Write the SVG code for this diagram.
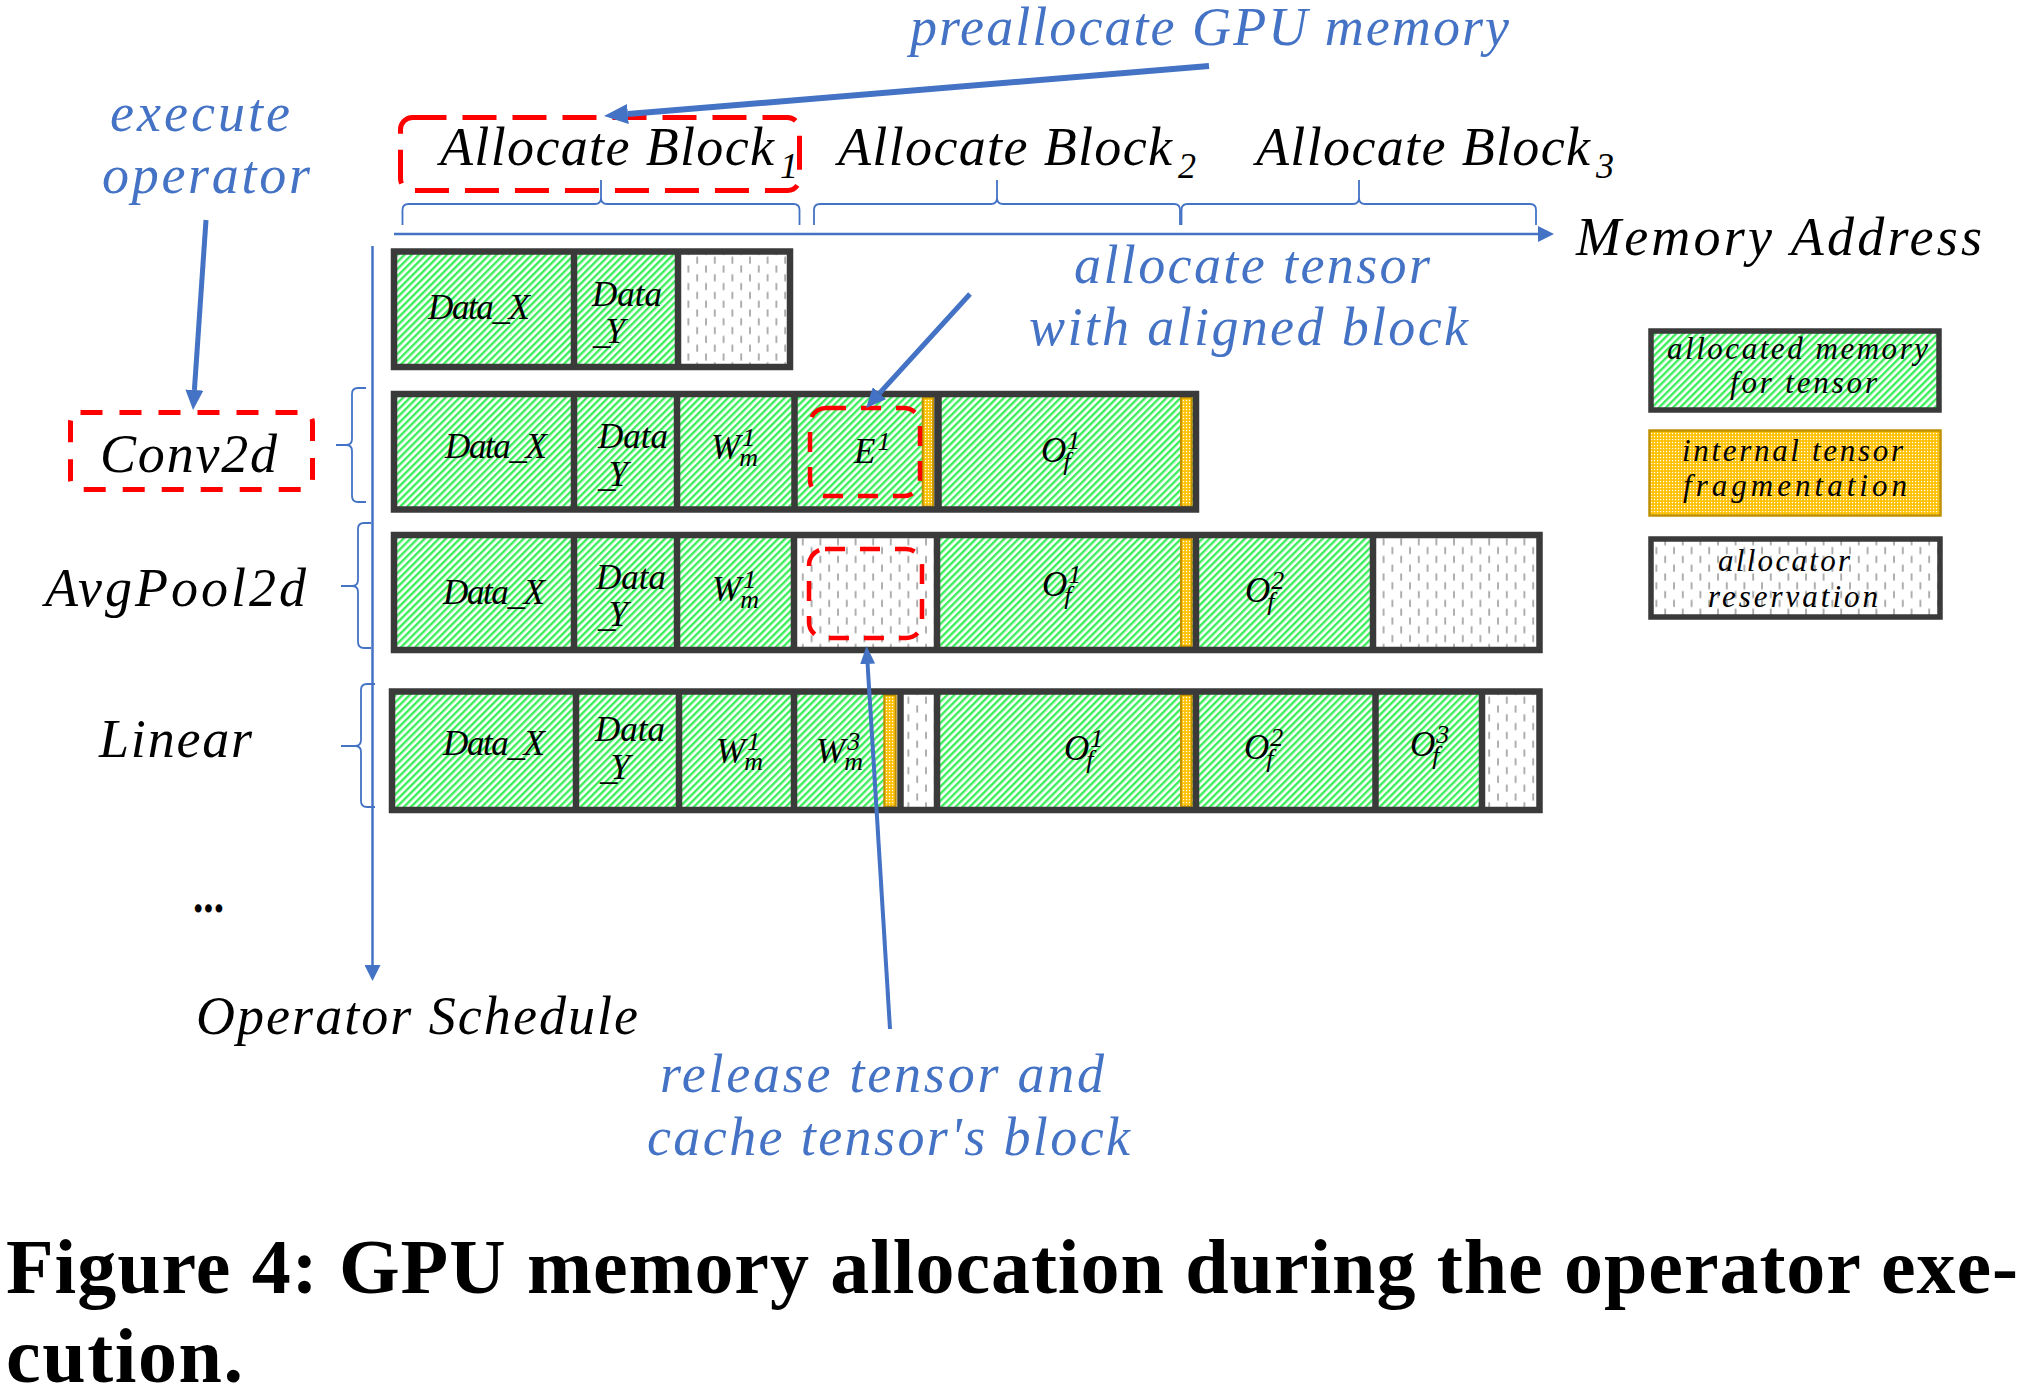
<svg xmlns="http://www.w3.org/2000/svg" width="2042" height="1400" viewBox="0 0 2042 1400">
<defs>
  <style>
    .it { font-family: "Liberation Serif", "DejaVu Serif", serif; font-style: italic; }
    .big { font-size: 54px; }
    .blue { fill: #4472C4; }
    .blk { fill: #000; }
    .cl { font-family: "Liberation Serif", "DejaVu Serif", serif; font-style: italic; font-size: 35px; fill: #000; }
    .sx { font-size: 26px; }
    .lg { font-family: "Liberation Serif", "DejaVu Serif", serif; font-style: italic; font-size: 31px; fill: #000; }
    .box { fill: none; stroke: #3A3A3A; stroke-width: 6.5; }
    .dv { stroke: #3A3A3A; stroke-width: 6.5; }
    .gr { fill: url(#pGreen); }
    .rs { fill: url(#pRes); }
    .or { fill: url(#pOrange); stroke: #BF9000; stroke-width: 2; }
    .redA { fill: none; stroke: #FF0000; stroke-width: 5; stroke-dasharray: 22 17; }
    .redB { fill: none; stroke: #FF0000; stroke-width: 4.5; stroke-dasharray: 20 15; }
    .axis { fill: none; stroke: #4472C4; stroke-width: 2.5; }
    .brace { fill: none; stroke: #4472C4; stroke-width: 1.8; }
    .arr { fill: none; stroke: #4472C4; }
    .cap { font-family: "Liberation Serif", "DejaVu Serif", serif; font-weight: bold; font-size: 78px; fill: #000; }
  </style>
  <pattern id="pGreen" patternUnits="userSpaceOnUse" width="5" height="20" patternTransform="rotate(45)">
    <rect width="5" height="20" fill="#ffffff"/>
    <rect width="2.4" height="20" fill="#3CEE5A"/>
  </pattern>
  <pattern id="pOrange" patternUnits="userSpaceOnUse" width="3" height="3">
    <rect width="3" height="3" fill="#FFC000"/>
    <rect x="0.9" y="0.9" width="1.3" height="1.3" fill="#FFFFFF"/>
  </pattern>
  <pattern id="pRes" patternUnits="userSpaceOnUse" width="17.6" height="17.6">
    <rect width="17.6" height="17.6" fill="#ffffff"/>
    <line x1="2" y1="1.5" x2="2" y2="8.5" stroke="#9C9C9C" stroke-width="1.6"/>
    <line x1="10.8" y1="10.3" x2="10.8" y2="17.3" stroke="#9C9C9C" stroke-width="1.6"/>
  </pattern>
  <marker id="ahL" markerUnits="userSpaceOnUse" markerWidth="24" markerHeight="20" viewBox="0 0 24 20" refX="0" refY="10" orient="auto">
    <path d="M0,0 L24,10 L0,20 z" fill="#4472C4"/>
  </marker>
  <marker id="ahM" markerUnits="userSpaceOnUse" markerWidth="20" markerHeight="18" viewBox="0 0 20 18" refX="0" refY="9" orient="auto">
    <path d="M0,0 L20,9 L0,18 z" fill="#4472C4"/>
  </marker>
  <marker id="ahT" markerUnits="userSpaceOnUse" markerWidth="18" markerHeight="15" viewBox="0 0 18 15" refX="0" refY="7.5" orient="auto">
    <path d="M0,0 L18,7.5 L0,15 z" fill="#4472C4"/>
  </marker>
  <marker id="ahS" markerUnits="userSpaceOnUse" markerWidth="16" markerHeight="16" viewBox="0 0 16 16" refX="0" refY="8" orient="auto">
    <path d="M0,0 L16,8 L0,16 z" fill="#4472C4"/>
  </marker>
</defs>

<rect width="2042" height="1400" fill="#ffffff"/>

<!-- annotation labels -->
<g id="note-preallocate">
  <text class="it big blue" x="910" y="45" textLength="599" lengthAdjust="spacing">preallocate GPU memory</text>
</g>
<g id="note-execute">
  <text class="it big blue" x="110" y="131" textLength="180" lengthAdjust="spacing">execute</text>
  <text class="it big blue" x="102" y="193" textLength="208" lengthAdjust="spacing">operator</text>
</g>
<g id="note-allocate">
  <text class="it big blue" x="1074" y="283" textLength="356" lengthAdjust="spacing">allocate tensor</text>
  <text class="it big blue" x="1029" y="345" textLength="439" lengthAdjust="spacing">with aligned block</text>
</g>
<g id="note-release">
  <text class="it big blue" x="660" y="1092" textLength="444" lengthAdjust="spacing">release tensor and</text>
  <text class="it big blue" x="647" y="1155" textLength="483" lengthAdjust="spacing">cache tensor's block</text>
</g>

<!-- allocate blocks header -->
<g id="block1">
  <rect class="redA" x="400.5" y="117.5" width="399" height="73" rx="12" style="stroke-dasharray:34 16"/>
  <text class="it big blk" x="440" y="165" textLength="334" lengthAdjust="spacing">Allocate Block</text>
  <text class="it blk" x="780" y="178" font-size="36">1</text>
</g>
<g id="block2">
  <text class="it big blk" x="838" y="165" textLength="334" lengthAdjust="spacing">Allocate Block</text>
  <text class="it blk" x="1178" y="178" font-size="36">2</text>
</g>
<g id="block3">
  <text class="it big blk" x="1256" y="165" textLength="334" lengthAdjust="spacing">Allocate Block</text>
  <text class="it blk" x="1596" y="178" font-size="36">3</text>
</g>
<g id="top-braces">
  <path class="brace" d="M402.5,225 L402.5,210 Q402.5,204 408.5,204 L595,204 Q601,204 601,198 L601,180 M601,198 Q601,204 607,204 L793.5,204 Q799.5,204 799.5,210 L799.5,225"/>
  <path class="brace" d="M814,225 L814,210 Q814,204 820,204 L991,204 Q997,204 997,198 L997,180 M997,198 Q997,204 1003,204 L1174,204 Q1180,204 1180,210 L1180,225"/>
  <path class="brace" d="M1181.5,225 L1181.5,210 Q1181.5,204 1187.5,204 L1353,204 Q1359,204 1359,198 L1359,180 M1359,198 Q1359,204 1365,204 L1530,204 Q1536,204 1536,210 L1536,225"/>
</g>
<g id="memory-address">
  <text class="it big blk" x="1576" y="255" textLength="406" lengthAdjust="spacing">Memory Address</text>
</g>

<!-- operators -->
<g id="op-conv2d">
  <rect class="redA" x="70.5" y="412.5" width="242" height="77" rx="10"/>
  <text class="it big blk" x="100" y="472" textLength="177" lengthAdjust="spacing">Conv2d</text>
</g>
<g id="op-avgpool2d">
  <text class="it big blk" x="45" y="606" textLength="261" lengthAdjust="spacing">AvgPool2d</text>
</g>
<g id="op-linear">
  <text class="it big blk" x="99" y="757" textLength="153" lengthAdjust="spacing">Linear</text>
</g>
<g id="op-more">
  <text x="193" y="912" font-family="Liberation Serif, DejaVu Serif, serif" font-weight="bold" font-size="50" textLength="31" lengthAdjust="spacingAndGlyphs">...</text>
</g>
<g id="operator-schedule">
  <text class="it big blk" x="196" y="1034" textLength="442" lengthAdjust="spacing">Operator Schedule</text>
</g>
<g id="left-braces">
  <path class="brace" d="M366,388 L358,388 Q352,388 352,394 L352,439 Q352,445 346,445 L336,445 M346,445 Q352,445 352,451 L352,496 Q352,502 358,502 L366,502"/>
  <path class="brace" d="M371,523 L364,523 Q358,523 358,529 L358,580 Q358,586 352,586 L341,586 M352,586 Q358,586 358,592 L358,642 Q358,648 364,648 L371,648"/>
  <path class="brace" d="M375,684 L367,684 Q361,684 361,690 L361,740 Q361,746 355,746 L341,746 M355,746 Q361,746 361,752 L361,801 Q361,807 367,807 L375,807"/>
</g>

<!-- row 1 -->
<g id="row1">
  <g id="r1-datax"><rect class="gr" x="394" y="251.5" width="180" height="115.5"/>
    <text class="cl" x="428" y="319" textLength="102" lengthAdjust="spacing">Data_X</text></g>
  <g id="r1-datay"><rect class="gr" x="574" y="251.5" width="104" height="115.5"/>
    <text class="cl" x="592" y="306" textLength="70" lengthAdjust="spacing">Data</text>
    <text class="cl" x="593" y="343" textLength="32" lengthAdjust="spacing">_Y</text></g>
  <g id="r1-res"><rect class="rs" x="678" y="251.5" width="112" height="115.5"/></g>
  <rect class="box" x="394" y="251.5" width="396" height="115.5"/>
  <line class="dv" x1="574" y1="251.5" x2="574" y2="367"/>
  <line class="dv" x1="678" y1="251.5" x2="678" y2="367"/>
</g>

<!-- row 2 -->
<g id="row2">
  <g id="r2-datax"><rect class="gr" x="394" y="394" width="180" height="115.5"/>
    <text class="cl" x="445" y="458" textLength="102" lengthAdjust="spacing">Data_X</text></g>
  <g id="r2-datay"><rect class="gr" x="574" y="394" width="103" height="115.5"/>
    <text class="cl" x="598" y="448" textLength="70" lengthAdjust="spacing">Data</text>
    <text class="cl" x="598" y="486" textLength="30" lengthAdjust="spacing">_Y</text></g>
  <g id="r2-w1"><rect class="gr" x="677" y="394" width="118" height="115.5"/>
    <text class="cl" x="711" y="459">W<tspan class="sx" dx="2" dy="-13">1</tspan><tspan class="sx" dx="-16" dy="20">m</tspan></text></g>
  <g id="r2-e1"><rect class="gr" x="794.5" y="394" width="128" height="115.5"/>
    <rect class="or" x="922.7" y="397.5" width="10.5" height="109"/>
    <text class="cl" x="854" y="463">E<tspan class="sx" dx="2" dy="-13">1</tspan></text>
    <rect class="redB" x="810" y="408" width="110" height="88" rx="16"/></g>
  <g id="r2-o1"><rect class="gr" x="938" y="394" width="258" height="115.5"/>
    <rect class="or" x="1181" y="397.5" width="10.7" height="109"/>
    <text class="cl" x="1041" y="462">O<tspan class="sx" dx="1" dy="-13">1</tspan><tspan class="sx" dx="-17" dy="21">f</tspan></text></g>
  <rect class="box" x="394" y="394" width="802" height="115.5"/>
  <line class="dv" x1="574" y1="394" x2="574" y2="509.5"/>
  <line class="dv" x1="677" y1="394" x2="677" y2="509.5"/>
  <line class="dv" x1="794.5" y1="394" x2="794.5" y2="509.5"/>
  <line class="dv" x1="938" y1="394" x2="938" y2="509.5" style="stroke-width:7.5"/>
</g>

<!-- row 3 -->
<g id="row3">
  <g id="r3-datax"><rect class="gr" x="394" y="535" width="180" height="115"/>
    <text class="cl" x="443" y="604" textLength="102" lengthAdjust="spacing">Data_X</text></g>
  <g id="r3-datay"><rect class="gr" x="574" y="535" width="103" height="115"/>
    <text class="cl" x="596" y="589" textLength="70" lengthAdjust="spacing">Data</text>
    <text class="cl" x="598" y="626" textLength="30" lengthAdjust="spacing">_Y</text></g>
  <g id="r3-w1"><rect class="gr" x="677" y="535" width="117" height="115"/>
    <text class="cl" x="712" y="601">W<tspan class="sx" dx="2" dy="-13">1</tspan><tspan class="sx" dx="-16" dy="20">m</tspan></text></g>
  <g id="r3-free"><rect class="rs" x="794" y="535" width="143" height="115"/>
    <rect class="redB" x="809" y="549" width="113" height="89" rx="16"/></g>
  <g id="r3-o1"><rect class="gr" x="937" y="535" width="259" height="115"/>
    <rect class="or" x="1181" y="538.5" width="10.7" height="108"/>
    <text class="cl" x="1042" y="596">O<tspan class="sx" dx="1" dy="-13">1</tspan><tspan class="sx" dx="-17" dy="21">f</tspan></text></g>
  <g id="r3-o2"><rect class="gr" x="1196" y="535" width="177" height="115"/>
    <text class="cl" x="1245" y="602">O<tspan class="sx" dx="1" dy="-13">2</tspan><tspan class="sx" dx="-17" dy="21">f</tspan></text></g>
  <g id="r3-res"><rect class="rs" x="1373" y="535" width="166.5" height="115"/></g>
  <rect class="box" x="394" y="535" width="1145.5" height="115"/>
  <line class="dv" x1="574" y1="535" x2="574" y2="650"/>
  <line class="dv" x1="677" y1="535" x2="677" y2="650"/>
  <line class="dv" x1="794" y1="535" x2="794" y2="650"/>
  <line class="dv" x1="937" y1="535" x2="937" y2="650"/>
  <line class="dv" x1="1196" y1="535" x2="1196" y2="650"/>
  <line class="dv" x1="1373" y1="535" x2="1373" y2="650"/>
</g>

<!-- row 4 -->
<g id="row4">
  <g id="r4-datax"><rect class="gr" x="392" y="691.5" width="184" height="118.5"/>
    <text class="cl" x="443" y="755" textLength="102" lengthAdjust="spacing">Data_X</text></g>
  <g id="r4-datay"><rect class="gr" x="576" y="691.5" width="103" height="118.5"/>
    <text class="cl" x="595" y="741" textLength="70" lengthAdjust="spacing">Data</text>
    <text class="cl" x="600" y="779" textLength="30" lengthAdjust="spacing">_Y</text></g>
  <g id="r4-w1"><rect class="gr" x="679" y="691.5" width="115" height="118.5"/>
    <text class="cl" x="716" y="763">W<tspan class="sx" dx="2" dy="-13">1</tspan><tspan class="sx" dx="-16" dy="20">m</tspan></text></g>
  <g id="r4-w3"><rect class="gr" x="794" y="691.5" width="90" height="118.5"/>
    <rect class="or" x="884.3" y="695" width="11.4" height="111.5"/>
    <text class="cl" x="816" y="763">W<tspan class="sx" dx="2" dy="-13">3</tspan><tspan class="sx" dx="-16" dy="20">m</tspan></text></g>
  <g id="r4-res1"><rect class="rs" x="900.5" y="691.5" width="36.5" height="118.5"/></g>
  <g id="r4-o1"><rect class="gr" x="937" y="691.5" width="259" height="118.5"/>
    <rect class="or" x="1181" y="695" width="10.7" height="111.5"/>
    <text class="cl" x="1064" y="760">O<tspan class="sx" dx="1" dy="-13">1</tspan><tspan class="sx" dx="-17" dy="21">f</tspan></text></g>
  <g id="r4-o2"><rect class="gr" x="1196" y="691.5" width="179.5" height="118.5"/>
    <text class="cl" x="1244" y="759">O<tspan class="sx" dx="1" dy="-13">2</tspan><tspan class="sx" dx="-17" dy="21">f</tspan></text></g>
  <g id="r4-o3"><rect class="gr" x="1375.5" y="691.5" width="106.5" height="118.5"/>
    <text class="cl" x="1410" y="756">O<tspan class="sx" dx="1" dy="-13">3</tspan><tspan class="sx" dx="-17" dy="21">f</tspan></text></g>
  <g id="r4-res2"><rect class="rs" x="1482" y="691.5" width="57.5" height="118.5"/></g>
  <rect class="box" x="392" y="691.5" width="1147.5" height="118.5"/>
  <line class="dv" x1="576" y1="691.5" x2="576" y2="810"/>
  <line class="dv" x1="679" y1="691.5" x2="679" y2="810"/>
  <line class="dv" x1="794" y1="691.5" x2="794" y2="810"/>
  <line class="dv" x1="900.5" y1="691.5" x2="900.5" y2="810"/>
  <line class="dv" x1="937" y1="691.5" x2="937" y2="810"/>
  <line class="dv" x1="1196" y1="691.5" x2="1196" y2="810"/>
  <line class="dv" x1="1375.5" y1="691.5" x2="1375.5" y2="810"/>
  <line class="dv" x1="1482" y1="691.5" x2="1482" y2="810"/>
</g>

<!-- legend -->
<g id="legend-allocated">
  <rect class="gr" x="1651" y="331" width="288" height="79"/>
  <rect class="box" x="1651" y="331" width="288" height="79" style="stroke-width:5.5"/>
  <text class="lg" x="1667" y="359" textLength="261" lengthAdjust="spacing">allocated memory</text>
  <text class="lg" x="1730" y="393" textLength="147" lengthAdjust="spacing">for tensor</text>
</g>
<g id="legend-fragmentation">
  <rect class="or" x="1649.5" y="430.5" width="291" height="85" style="stroke-width:2.5"/>
  <text class="lg" x="1682" y="461" textLength="221" lengthAdjust="spacing">internal tensor</text>
  <text class="lg" x="1683" y="496" textLength="224" lengthAdjust="spacing">fragmentation</text>
</g>
<g id="legend-reservation">
  <rect class="rs" x="1651" y="539" width="289" height="78"/>
  <rect class="box" x="1651" y="539" width="289" height="78" style="stroke-width:5.5"/>
  <text class="lg" x="1718" y="571" textLength="132" lengthAdjust="spacing">allocator</text>
  <text class="lg" x="1708" y="607" textLength="170" lengthAdjust="spacing">reservation</text>
</g>

<!-- connectors -->
<g id="connectors">
  <line class="axis" x1="394" y1="234" x2="1538" y2="234" marker-end="url(#ahS)"/>
  <line class="axis" x1="372.5" y1="246" x2="372.5" y2="965" marker-end="url(#ahS)"/>
  <line class="arr" x1="1209" y1="66" x2="627.9" y2="114" stroke-width="6" marker-end="url(#ahL)"/>
  <line class="arr" x1="206" y1="220" x2="194.4" y2="390" stroke-width="5" marker-end="url(#ahM)"/>
  <line class="arr" x1="970" y1="294" x2="879.5" y2="393.2" stroke-width="5" marker-end="url(#ahM)"/>
  <line class="arr" x1="890" y1="1029" x2="867.6" y2="664" stroke-width="4" marker-end="url(#ahT)"/>
</g>

<!-- caption -->
<g id="caption">
  <text class="cap" x="6" y="1293" textLength="2012" lengthAdjust="spacing">Figure 4: GPU memory allocation during the operator exe-</text>
  <text class="cap" x="6" y="1382" textLength="237" lengthAdjust="spacing">cution.</text>
</g>
</svg>
